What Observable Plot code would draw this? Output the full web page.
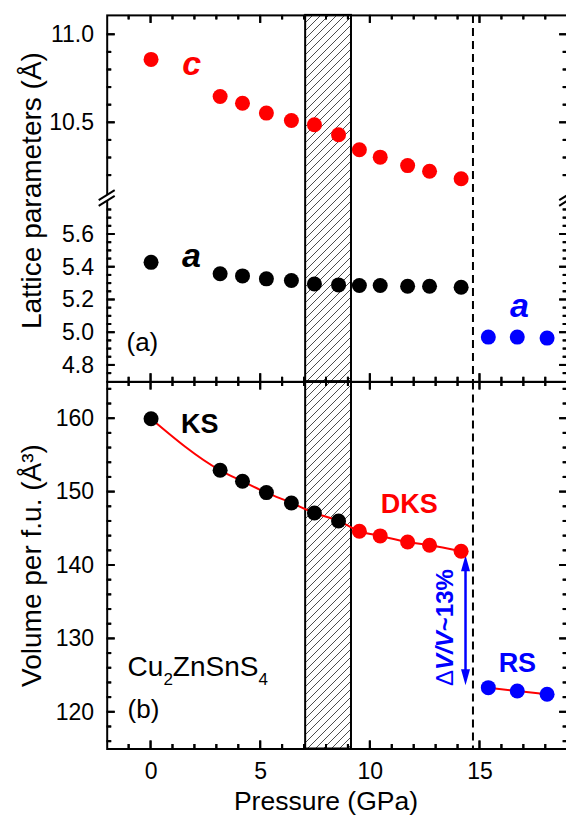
<!DOCTYPE html>
<html>
<head>
<meta charset="utf-8">
<script src="https://cdn.jsdelivr.net/npm/d3@7"></script>
<script src="https://cdn.jsdelivr.net/npm/@observablehq/plot@0.6"></script>
<style>
html, body { margin: 0; padding: 0; background: #fff; overflow: hidden; }
#fig { position: relative; width: 566px; height: 815px; }
#fig > svg { position: absolute; left: 0; top: 0; }
</style>
</head>
<body>
<div id="fig"></div>
<script>
// ---------------- data ----------------
const pressure  = [0, 3.15, 4.17, 5.26, 6.4, 7.45, 8.55, 9.5, 10.45, 11.7, 12.7, 14.14];
const latticeC  = [10.860, 10.649, 10.611, 10.555, 10.513, 10.489, 10.432, 10.347, 10.305, 10.257, 10.225, 10.182];
const latticeA  = [5.43, 5.36, 5.347, 5.329, 5.319, 5.298, 5.292, 5.288, 5.288, 5.284, 5.284, 5.278];
const volume    = [160, 152.97, 151.47, 149.93, 148.52, 147.16, 146.07, 144.67, 144.03, 143.2, 142.76, 141.94];
const phase     = ["KS", "KS", "KS", "KS", "KS", "KS", "KS", "DKS", "DKS", "DKS", "DKS", "DKS"];
const pressureRS = [15.38, 16.7, 18.06];
const latticeARS = [4.973, 4.973, 4.967];
const volumeRS   = [123.36, 122.9, 122.45];

const transitionBand = [{start: 7.05, end: 9.14}];
const rsBoundary = [14.68];
const jumpArrow = [{x: 14.34, top: 141.4, bottom: 123.68}];

// ticks
const xDomain = [-2, 19];
const xMajor = [0, 5, 10, 15];
const xMinor = [-1, 1, 2, 3, 4, 6, 7, 8, 9, 11, 12, 13, 14, 16, 17, 18];
const yTopDomain = [4.7, 5.82, 10.07, 11.11];
const yTopRange = [381.3, 198, 198, 14.9];
const yTopMajor = [4.8, 5.0, 5.2, 5.4, 5.6, 10.5, 11.0];
const yTopMinor = [4.75, 4.85, 4.9, 4.95, 5.05, 5.1, 5.15, 5.25, 5.3, 5.35, 5.45, 5.5, 5.55, 5.65, 5.7, 5.75,
                   10.2, 10.3, 10.4, 10.6, 10.7, 10.8, 10.9];
const yBotDomain = [115, 165];
const yBotMajor = [120, 130, 140, 150, 160];
const yBotMinor = [116, 118, 122, 124, 126, 128, 132, 134, 136, 138, 142, 144, 146, 148, 152, 154, 156, 158, 162, 164];

// annotations
const RED = "#ff0000", BLUE = "#0000ff", BLACK = "#000000";
const topSeriesLabels = [
  {x: 1.85, y: 10.836, text: "c", color: RED},
  {x: 1.84, y: 5.467, text: "a", color: BLACK},
  {x: 16.8, y: 5.162, text: "a", color: BLUE}
];
const panelTagTop = [{x: -1.12, y: 4.942, text: "(a)"}];
const panelTagBot = [{x: -1.07, y: 120.38, text: "(b)"}];
const phaseLabels = [
  {x: 1.37, y: 159.17, text: "KS", color: BLACK},
  {x: 10.47, y: 148.27, text: "DKS", color: RED},
  {x: 15.85, y: 126.65, text: "RS", color: BLUE}
];
const formulaLabel = [{x: -1.07, y: 126.1, text: "Cu2ZnSnS4"}];
const jumpLabel = [{x: 13.41, y: 131.55, text: "ΔV/V~13%"}];
const yTitleTop = ["Lattice parameters (Å)"];
const yTitleBot = ["Volume per f.u. (Å³)"];
const xTitle = ["Pressure (GPa)"];

const phaseColor = {KS: BLACK, DKS: RED, RS: BLUE};

// tables
const mainTable = pressure.map((p, i) => ({p, c: latticeC[i], a: latticeA[i], v: volume[i], phase: phase[i]}));
const rsTable = pressureRS.map((p, i) => ({p, a: latticeARS[i], v: volumeRS[i], phase: "RS"}));

// ---------------- layout ----------------
const W = 566, H = 815;
const LEFT = 106.7, RIGHT = -1.2;
const TOP_MARGINS = {marginLeft: LEFT, marginRight: RIGHT, marginTop: 14.9, marginBottom: H - 381.3};
const BOT_MARGINS = {marginLeft: LEFT, marginRight: RIGHT, marginTop: 381.5, marginBottom: H - 748.5};
const FONT = "'Liberation Sans', Arial, Helvetica, sans-serif";
const svgStyle = {background: "transparent", fontFamily: FONT, color: BLACK, overflow: "visible", position: "absolute", left: "0px", top: "0px"};
const MAJOR = 8, MINOR = 4.5;

const headUp = {draw(ctx) { ctx.moveTo(0, 0); ctx.lineTo(4.5, 16); ctx.lineTo(-4.5, 16); ctx.closePath(); }};
const headDown = {draw(ctx) { ctx.moveTo(0, 0); ctx.lineTo(4.5, -16); ctx.lineTo(-4.5, -16); ctx.closePath(); }};

function hatchDefs(id) {
  return () => {
    const g = d3.create("svg:g");
    const p = g.append("defs").append("pattern")
      .attr("id", id).attr("patternUnits", "userSpaceOnUse")
      .attr("width", 8).attr("height", 8);
    p.append("path").attr("d", "M0,8L8,0M-1,1L1,-1M7,9L9,7")
      .attr("stroke", BLACK).attr("stroke-width", 0.7).attr("fill", "none");
    return g.node();
  };
}

function breakMarks(yValue) {
  return (index, scales) => {
    const g = d3.create("svg:g");
    const y0 = scales.y(yValue);
    for (const xv of xDomain) {
      const x0 = scales.x(xv);
      g.append("path")
        .attr("d", `M${x0 - 8},${y0 + 2.2} L${x0 + 8},${y0 - 7.8} L${x0 + 8},${y0 - 2.2} L${x0 - 8},${y0 + 7.8}Z`)
        .attr("fill", "white");
      for (const off of [-2.8, 2.8]) {
        g.append("line")
          .attr("x1", x0 - 8).attr("y1", y0 + off + 5)
          .attr("x2", x0 + 8).attr("y2", y0 + off - 5)
          .attr("stroke", BLACK).attr("stroke-width", 2);
      }
    }
    return g.node();
  };
}

// inward tick marks on all four sides, placed through the scales
function tickLines(yDomain, yMajor, yMinor) {
  return (index, scales) => {
    const g = d3.create("svg:g");
    const L = scales.x(xDomain[0]), R = scales.x(xDomain[1]);
    const B = scales.y(yDomain[0]), T = scales.y(yDomain[yDomain.length - 1]);
    const seg = (x1, y1, x2, y2) => {
      g.append("line").attr("x1", x1).attr("y1", y1).attr("x2", x2).attr("y2", y2)
        .attr("stroke", BLACK).attr("stroke-width", 2);
    };
    for (const v of yMajor) { const y = scales.y(v); seg(L, y, L + MAJOR, y); seg(R, y, R - MAJOR, y); }
    for (const v of yMinor) { const y = scales.y(v); seg(L, y, L + MINOR, y); seg(R, y, R - MINOR, y); }
    for (const v of xMajor) { const x = scales.x(v); seg(x, T, x, T + MAJOR); seg(x, B, x, B - MAJOR); }
    for (const v of xMinor) { const x = scales.x(v); seg(x, T, x, T + MINOR); seg(x, B, x, B - MINOR); }
    return g.node();
  };
}

function axisLabels(yMajor, yFmt, xLabels) {
  const c = {label: null, fontSize: 23, tickSize: 0, tickPadding: 13.2};
  const out = [Plot.axisY(yMajor, {anchor: "left", tickFormat: yFmt, ...c})];
  out.push(Plot.axisX(xMajor, {anchor: "bottom", tickFormat: xLabels ? (d => String(d)) : (() => ""), ...c}));
  return out;
}

// ---------------- top panel ----------------
const topPlot = Plot.plot({
  width: W, height: H, ...TOP_MARGINS,
  style: svgStyle,
  x: {domain: xDomain},
  y: {type: "linear", domain: yTopDomain, range: yTopRange},
  color: {type: "identity"},
  marks: [
    hatchDefs("hatchTop"),
    Plot.rect(transitionBand, {x1: "start", x2: "end", fill: "url(#hatchTop)", stroke: BLACK, strokeWidth: 2}),
    Plot.ruleX(rsBoundary, {stroke: BLACK, strokeWidth: 2, strokeDasharray: "8,5"}),
    Plot.dot(mainTable, {x: "p", y: "c", r: 7.5, fill: RED}),
    Plot.dot(mainTable, {x: "p", y: "a", r: 7.5, fill: BLACK}),
    Plot.dot(rsTable, {x: "p", y: "a", r: 7.5, fill: BLUE}),
    Plot.text(topSeriesLabels, {x: "x", y: "y", text: "text", fill: "color", fontSize: 34, fontWeight: "bold", fontStyle: "italic", textAnchor: "middle", lineAnchor: "middle"}),
    Plot.text(panelTagTop, {x: "x", y: "y", text: "text", fill: BLACK, fontSize: 26, textAnchor: "start", lineAnchor: "middle"}),
    Plot.text(yTitleTop, {frameAnchor: "left", text: d => d, rotate: -90, dx: -74.7, dy: -8, fontSize: 28, fill: BLACK, textAnchor: "middle", lineAnchor: "middle"}),
    ...axisLabels(yTopMajor, d3.format(".1f"), false),
    tickLines(yTopDomain, yTopMajor, yTopMinor),
    Plot.frame({stroke: BLACK, strokeWidth: 2}),
    breakMarks(5.82)
  ]
});

// ---------------- bottom panel ----------------
const botPlot = Plot.plot({
  width: W, height: H, ...BOT_MARGINS,
  style: svgStyle,
  x: {domain: xDomain},
  y: {domain: yBotDomain},
  color: {type: "identity"},
  marks: [
    hatchDefs("hatchBot"),
    Plot.rect(transitionBand, {x1: "start", x2: "end", fill: "url(#hatchBot)", stroke: BLACK, strokeWidth: 2}),
    Plot.ruleX(rsBoundary, {stroke: BLACK, strokeWidth: 2, strokeDasharray: "8,5"}),
    Plot.line(mainTable, {x: "p", y: "v", stroke: RED, strokeWidth: 2, curve: "monotone-x"}),
    Plot.line(rsTable, {x: "p", y: "v", stroke: RED, strokeWidth: 2}),
    Plot.ruleX(jumpArrow, {x: "x", y1: "top", y2: "bottom", stroke: BLUE, strokeWidth: 2.5, insetTop: 8, insetBottom: 8}),
    Plot.dot(jumpArrow, {x: "x", y: "top", symbol: headUp, r: 5, fill: BLUE, stroke: "none"}),
    Plot.dot(jumpArrow, {x: "x", y: "bottom", symbol: headDown, r: 5, fill: BLUE, stroke: "none"}),
    Plot.dot(mainTable, {x: "p", y: "v", r: 7.5, fill: d => phaseColor[d.phase]}),
    Plot.dot(rsTable, {x: "p", y: "v", r: 7.5, fill: BLUE}),
    Plot.text(phaseLabels, {x: "x", y: "y", text: "text", fill: "color", fontSize: 27, fontWeight: "bold", textAnchor: "start", lineAnchor: "middle"}),
    Plot.text(panelTagBot, {x: "x", y: "y", text: "text", fill: BLACK, fontSize: 26, textAnchor: "start", lineAnchor: "middle"}),
    Plot.text(formulaLabel, {x: "x", y: "y", text: "text", fill: BLACK, fontSize: 28, textAnchor: "start", lineAnchor: "middle"}),
    Plot.text(jumpLabel, {x: "x", y: "y", text: "text", fill: BLUE, fontSize: 24, fontWeight: "bold", rotate: -90, textAnchor: "middle", lineAnchor: "middle"}),
    Plot.text(yTitleBot, {frameAnchor: "left", text: d => d, rotate: -90, dx: -74.7, dy: 0, fontSize: 28, fill: BLACK, textAnchor: "middle", lineAnchor: "middle"}),
    Plot.text(xTitle, {frameAnchor: "bottom", text: d => d, dx: -11.5, dy: 52.5, fontSize: 26.5, fill: BLACK, textAnchor: "middle", lineAnchor: "middle"}),
    ...axisLabels(yBotMajor, d => String(d), true),
    tickLines(yBotDomain, yBotMajor, yBotMinor),
    Plot.frame({stroke: BLACK, strokeWidth: 2})
  ]
});

// ---------------- tick overlays (same scales, drawn on top) ----------------
function tickOverlay(margins, yOpts, yMajor, yMinor) {
  return Plot.plot({
    width: W, height: H, ...margins,
    style: svgStyle,
    x: {domain: xDomain, axis: null},
    y: {...yOpts, axis: null},
    marks: [
      Plot.ruleX(xMajor, {stroke: "none"}),
      Plot.ruleY(yMajor, {stroke: "none"}),
      tickLines(yOpts.domain, yMajor, yMinor)
    ]
  });
}
const topTicks = tickOverlay(TOP_MARGINS, {type: "linear", domain: yTopDomain, range: yTopRange}, yTopMajor, yTopMinor);
const botTicks = tickOverlay(BOT_MARGINS, {domain: yBotDomain}, yBotMajor, yBotMinor);

// rich text: subscripts and italics (found by their text content)
d3.select(botPlot).selectAll("text").each(function () {
  const t = d3.select(this);
  const s = this.textContent;
  if (s === formulaLabel[0].text) {
    t.text(null);
    t.append("tspan").text("Cu");
    t.append("tspan").attr("dy", 9).attr("font-size", 17).text("2");
    t.append("tspan").attr("dy", -9).text("ZnSnS");
    t.append("tspan").attr("dy", 9).attr("font-size", 17).text("4");
  } else if (s === jumpLabel[0].text) {
    t.text(null);
    t.append("tspan").attr("font-weight", "normal").text("Δ");
    t.append("tspan").attr("font-style", "italic").text("V/V");
    t.append("tspan").text("~13%");
  }
});

const fig = document.getElementById("fig");
fig.appendChild(botPlot);
fig.appendChild(topPlot);
fig.appendChild(botTicks);
fig.appendChild(topTicks);
</script>
</body>
</html>
